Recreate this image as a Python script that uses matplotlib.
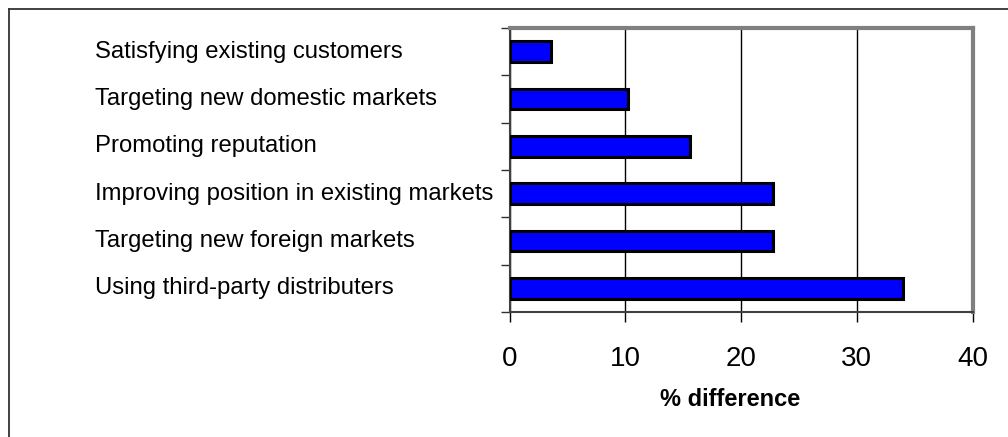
import numpy as np
import matplotlib.pyplot as plt
from matplotlib.lines import Line2D
from matplotlib.transforms import blended_transform_factory

plt.rcParams['font.family'] = ['Liberation Sans', 'DejaVu Sans']

# Strategies, listed top to bottom
categories = [
    'Satisfying existing customers',
    'Targeting new domestic markets',
    'Promoting reputation',
    'Improving position in existing markets',
    'Targeting new foreign markets',
    'Using third-party distributers',
]
pct_diff = [3.6, 10.2, 15.6, 22.8, 22.8, 34.0]
x_ticks = [0, 10, 20, 30, 40]

fig = plt.figure(figsize=(10.08, 4.37), dpi=100)
ax = fig.add_axes([0.5055, 0.286, 0.4593, 0.650])

y = np.arange(len(categories))
ax.barh(y, pct_diff, height=0.44, color='#0000FF', edgecolor='black',
        linewidth=2.2, zorder=3)

ax.set_xlim(0, 40)
ax.set_ylim(len(categories) - 0.5, -0.5)
ax.set_xticks(x_ticks)
ax.set_xticklabels([str(t) for t in x_ticks], fontsize=20)
ax.set_yticks(np.arange(-0.5, len(categories), 1.0))
ax.set_yticklabels([])
ax.tick_params(axis='x', direction='out', length=7.5, width=1, pad=17, colors='black')
ax.tick_params(axis='y', direction='out', length=6.5, width=1, colors='#303030')
ax.xaxis.grid(True, color='black', linewidth=1, zorder=1)

for side in ['top', 'right']:
    ax.spines[side].set_color('#808080')
    ax.spines[side].set_linewidth(3)
for side in ['left', 'bottom']:
    ax.spines[side].set_color('#404040')
    ax.spines[side].set_linewidth(1.5)

# category names, left aligned in the margin
trans = blended_transform_factory(fig.transFigure, ax.transData)
for yi, name in zip(y, categories):
    ax.text(95 / 1008, yi, name, transform=trans, ha='left', va='center',
            fontsize=17.2, clip_on=False)

fig.text(730 / 1008, 1 - 406 / 437, '% difference', ha='center', va='baseline',
         fontsize=17, fontweight='bold')

# outer frame (top and left edges)
fig.add_artist(Line2D([8.5 / 1008, 1.0], [1 - 8.5 / 437] * 2, transform=fig.transFigure,
                      color='#333333', linewidth=1.3))
fig.add_artist(Line2D([8.5 / 1008] * 2, [0.0, 1 - 8.5 / 437], transform=fig.transFigure,
                      color='#333333', linewidth=1.3))

fig.savefig('out.png', dpi=100)
